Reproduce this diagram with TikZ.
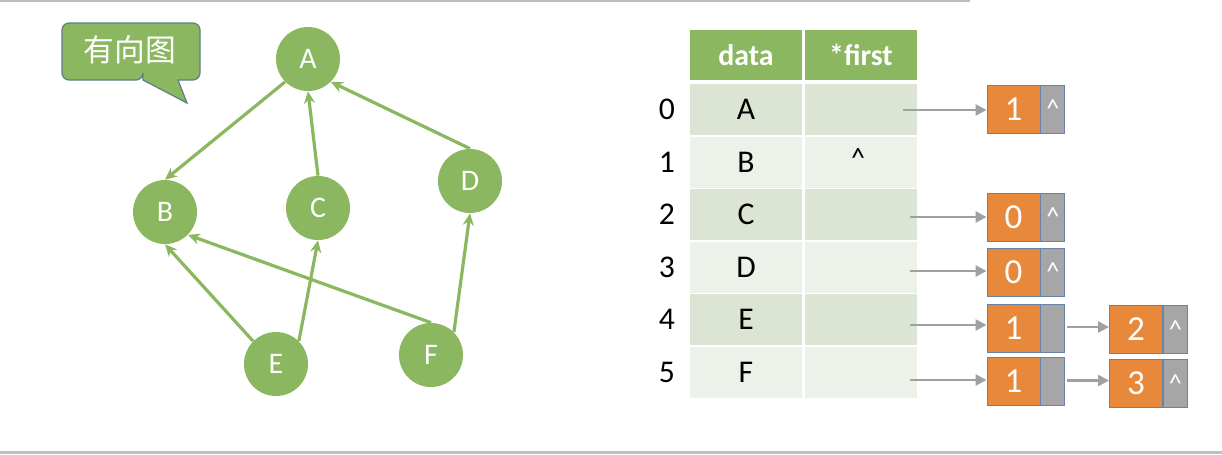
\documentclass[tikz,border=0pt]{standalone}
\usepackage{fontspec}
\setmainfont{Carlito}
\newfontfamily\cjk{Noto Sans CJK SC}
\usetikzlibrary{arrows.meta,calc}
\definecolor{gnode}{RGB}{138,183,95}
\definecolor{calloutborder}{RGB}{95,125,140}
\definecolor{rowdark}{RGB}{220,229,212}
\definecolor{rowlight}{RGB}{236,241,233}
\definecolor{orangebox}{RGB}{232,136,58}
\definecolor{graybox}{RGB}{166,166,166}
\definecolor{boxborder}{RGB}{105,130,170}
\definecolor{arrowgray}{RGB}{160,160,160}
\definecolor{rulegray}{RGB}{190,190,190}
\newcommand{\px}{0.02cm}
\tikzset{
  gnodestyle/.style={circle, fill=gnode, minimum size=64*\px, inner sep=0pt, text=white,
    font=\fontsize{17pt}{19pt}\selectfont},
  gedge/.style={draw=gnode, line width=3.2*\px, -{Stealth[length=12*\px, width=11*\px]}},
  headcell/.style={fill=gnode, minimum width=112*\px, minimum height=50*\px, inner sep=0pt,
    text=white, font=\fontsize{17pt}{19pt}\selectfont\bfseries},
  cell/.style={minimum width=112*\px, minimum height=51*\px, inner sep=0pt,
    font=\fontsize{18pt}{20pt}\selectfont},
  idx/.style={font=\fontsize{18pt}{20pt}\selectfont, inner sep=0pt},
  valbox/.style={fill=orangebox, draw=boxborder, line width=0.9*\px, minimum width=53*\px,
    minimum height=48*\px, inner sep=0pt, text=white, font=\fontsize{20pt}{22pt}\selectfont},
  ptrbox/.style={fill=graybox, draw=boxborder, line width=0.9*\px, minimum width=24*\px,
    minimum height=48*\px, inner sep=0pt, text=white, font=\fontsize{15pt}{17pt}\selectfont},
  garrow/.style={draw=arrowgray, line width=2.5*\px, -{Triangle[length=11*\px, width=11*\px]}}
}
\begin{document}
\begin{tikzpicture}[x=0.02cm, y=-0.02cm]
\useasboundingbox (0,0) rectangle (1222,454);
\fill[white] (0,0) rectangle (1222,454);
% rules
\draw[rulegray, line width=2*\px] (0,1) -- (970,1);
\draw[rulegray, line width=2.5*\px] (0,452.5) -- (1222,452.5);

% callout
\draw[fill=gnode, draw=calloutborder, line width=1.2*\px]
  (143,80) -- (187,103) -- (178,80) [rounded corners=7*\px] -- (200,80) -- (200,23)
  -- (62,23) -- (62,80) -- (143,80) [sharp corners] -- cycle;
\node[text=white, font=\cjk\fontsize{17.5pt}{20pt}\selectfont, inner sep=0pt] (title) at (130,50) {有向图};

% graph
\node[gnodestyle] (A) at (308,59) {A};
\node[gnodestyle] (B) at (165,212) {B};
\node[gnodestyle] (C) at (318,208) {C};
\node[gnodestyle] (D) at (470,181) {D};
\node[gnodestyle] (E) at (276,364) {E};
\node[gnodestyle] (F) at (431,355) {F};
\draw[gedge] (A.225) -- (B.north);
\draw[gedge] (C.north) -- (A.south);
\draw[gedge] (D.north) -- (A.-45);
\draw[gedge] (E.135) -- (B.south);
\draw[gedge] (E.45) -- (C.south);
\draw[gedge] (F.north) -- (B.-45);
\draw[gedge] (F.45) -- (D.south);

% table header
\node[headcell] (hd) at (746,55) {data};
\node[headcell] (hf) at (861,55) {*first};
% rows
\foreach \i/\v/\c in {0/A/rowdark,1/B/rowlight,2/C/rowdark,3/D/rowlight,4/E/rowdark,5/F/rowlight}{
  \node[cell, fill=\c] (d\i) at (746,109.5+52.5*\i) {\v};
  \node[cell, fill=\c] (f\i) at (861,109.5+52.5*\i) {};
  \node[idx] (i\i) at (667,109.5+52.5*\i) {\i};
}
\node[font=\fontsize{16pt}{18pt}\selectfont, inner sep=0pt] (nullB) at (858,158) {\^{}};

% list nodes
\node[valbox] (v0) at (1013.5,109) {1};
\node[ptrbox, anchor=west] (p0) at (v0.east) {\^{}};
\node[valbox] (v2) at (1013.5,217) {0};
\node[ptrbox, anchor=west] (p2) at (v2.east) {\^{}};
\node[valbox] (v3) at (1013.5,272) {0};
\node[ptrbox, anchor=west] (p3) at (v3.east) {\^{}};
\node[valbox] (v4) at (1013.5,328) {1};
\node[ptrbox, anchor=west] (p4) at (v4.east) {};
\node[valbox] (v5) at (1013.5,381.5) {1};
\node[ptrbox, anchor=west] (p5) at (v5.east) {};
\node[valbox] (w4) at (1136,329.5) {2};
\node[ptrbox, anchor=west] (q4) at (w4.east) {\^{}};
\node[valbox] (w5) at (1136,383.5) {3};
\node[ptrbox, anchor=west] (q5) at (w5.east) {\^{}};

% pointer arrows
\coordinate (s0) at (903,110);
\coordinate (s2) at (910,217);
\coordinate (s3) at (910,271);
\coordinate (s4) at (910,325);
\coordinate (s5) at (910,380);
\draw[garrow] (s0) -- (s0 -| v0.west);
\draw[garrow] (s2) -- (s2 -| v2.west);
\draw[garrow] (s3) -- (s3 -| v3.west);
\draw[garrow] (s4) -- (s4 -| v4.west);
\draw[garrow] (s5) -- (s5 -| v5.west);
\coordinate (t4) at ($(p4.east)+(2,-1)$);
\coordinate (t5) at ($(p5.east)+(2,-1)$);
\draw[garrow] (t4) -- (t4 -| w4.west);
\draw[garrow] (t5) -- (t5 -| w5.west);
\end{tikzpicture}
\end{document}
